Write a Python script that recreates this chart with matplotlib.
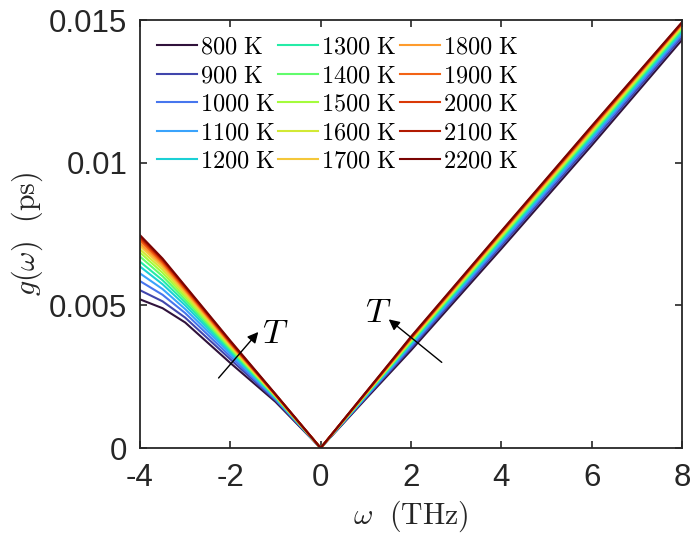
import numpy as np
import matplotlib
matplotlib.use('Agg')
import matplotlib.pyplot as plt

plt.rcParams['mathtext.fontset'] = 'cm'
plt.rcParams['font.family'] = ['Liberation Sans', 'DejaVu Sans']

# frequency grid (THz)
omega = [-4, -3.5, -3, -2, -1, 0, 1, 2, 4, 6, 8]

temps = [800, 900, 1000, 1100, 1200, 1300, 1400, 1500,
         1600, 1700, 1800, 1900, 2000, 2100, 2200]

# g(omega) in units of 1e-3 ps, one row per temperature
g_vals = [
    [5.21, 4.90, 4.40, 2.98, 1.62, 0, 1.72, 3.42, 6.98, 10.60, 14.30],
    [5.53, 5.14, 4.57, 3.11, 1.67, 0, 1.76, 3.50, 7.08, 10.70, 14.40],
    [5.85, 5.37, 4.73, 3.21, 1.71, 0, 1.79, 3.56, 7.16, 10.80, 14.48],
    [6.12, 5.57, 4.87, 3.30, 1.74, 0, 1.81, 3.61, 7.22, 10.86, 14.55],
    [6.36, 5.74, 5.00, 3.37, 1.76, 0, 1.83, 3.65, 7.28, 10.92, 14.60],
    [6.53, 5.88, 5.11, 3.43, 1.78, 0, 1.85, 3.69, 7.33, 10.97, 14.65],
    [6.71, 6.02, 5.21, 3.48, 1.80, 0, 1.87, 3.72, 7.37, 11.02, 14.70],
    [6.85, 6.14, 5.30, 3.53, 1.82, 0, 1.88, 3.75, 7.41, 11.06, 14.74],
    [6.96, 6.25, 5.38, 3.57, 1.83, 0, 1.89, 3.78, 7.45, 11.10, 14.78],
    [7.08, 6.34, 5.45, 3.61, 1.84, 0, 1.90, 3.80, 7.48, 11.14, 14.81],
    [7.17, 6.42, 5.51, 3.64, 1.85, 0, 1.91, 3.82, 7.51, 11.17, 14.84],
    [7.27, 6.49, 5.56, 3.67, 1.86, 0, 1.92, 3.84, 7.54, 11.20, 14.86],
    [7.35, 6.55, 5.61, 3.70, 1.87, 0, 1.93, 3.86, 7.56, 11.23, 14.88],
    [7.41, 6.60, 5.65, 3.73, 1.88, 0, 1.94, 3.88, 7.58, 11.26, 14.90],
    [7.46, 6.64, 5.68, 3.76, 1.89, 0, 1.95, 3.90, 7.60, 11.28, 14.92],
]

xticks = [-4, -2, 0, 2, 4, 6, 8]
xticklabels = ['-4', '-2', '0', '2', '4', '6', '8']
yticks = [0, 0.005, 0.01, 0.015]
yticklabels = ['0', '0.005', '0.01', '0.015']

fig = plt.figure(figsize=(6.93, 5.35), dpi=100)
ax = fig.add_axes([0.202, 0.1626, 0.782, 0.80])

colors = plt.cm.turbo(np.linspace(0, 1, len(temps)))
for T, g, c in zip(temps, g_vals, colors):
    ax.plot(omega, np.array(g) * 1e-3, color=c, lw=1.5,
            label=r'$\mathrm{%d\ K}$' % T)

ax.set_xlim(-4, 8)
ax.set_ylim(0, 0.015)
ax.set_xticks(xticks)
ax.set_xticklabels(xticklabels)
ax.set_yticks(yticks)
ax.set_yticklabels(yticklabels)

dark = '#262626'
for s in ax.spines.values():
    s.set_color(dark)
    s.set_linewidth(1.3)
ax.tick_params(direction='in', top=True, right=True, length=5, width=1.2,
               color=dark, labelcolor=dark, labelsize=22.5)
ax.tick_params(axis='x', pad=11)
ax.tick_params(axis='y', pad=9)

ax.set_xlabel(r'$\omega\ \ \mathrm{(THz)}$', fontsize=21.5, color=dark, labelpad=4)
ax.set_ylabel(r'$g(\omega)\ \ \mathrm{(ps)}$', fontsize=21.5, color=dark, labelpad=3)

# arrows showing the direction of increasing temperature
ax.annotate('', xy=(-1.34, 0.00414), xytext=(-2.30, 0.00238),
            arrowprops=dict(arrowstyle='-|>', lw=1.0, color='k', mutation_scale=16))
ax.text(-1.30, 0.0040, r'$T$', fontsize=25, ha='left', va='center')
ax.annotate('', xy=(1.46, 0.00457), xytext=(2.73, 0.00294),
            arrowprops=dict(arrowstyle='-|>', lw=1.0, color='k', mutation_scale=16))
ax.text(1.28, 0.00475, r'$T$', fontsize=25, ha='center', va='center')

ax.legend(ncol=3, loc='upper left', bbox_to_anchor=(0.0, 1.0), frameon=False,
          fontsize=17.5, handlelength=1.65, handletextpad=0.12,
          columnspacing=0.12, labelspacing=0.27, borderaxespad=0.28)

fig.savefig('out.png', dpi=100)
